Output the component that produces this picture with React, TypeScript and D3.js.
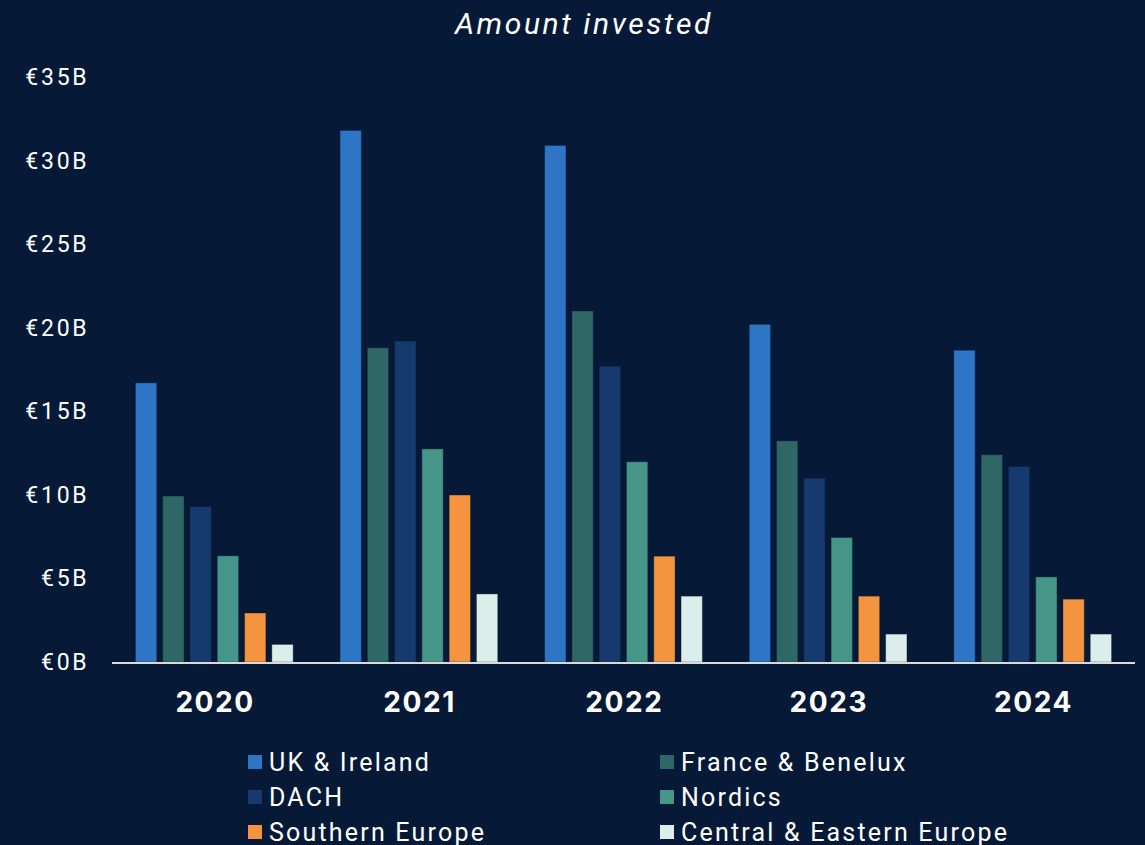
import React from 'react';
import * as d3 from 'd3';

const years = ['2020', '2021', '2022', '2023', '2024'];
const regions = ['UK & Ireland', 'France & Benelux', 'DACH', 'Nordics', 'Southern Europe', 'Central & Eastern Europe'];
const colors = ['#2E75C6', '#2F6666', '#173A6E', '#459688', '#F4943F', '#DCEEEA'];

// € billions per region, one array per region, in year order
const ukIreland = [16.7, 31.8, 30.9, 20.2, 18.65];
const franceBenelux = [9.93, 18.8, 21.0, 13.23, 12.4];
const dach = [9.3, 19.2, 17.7, 11.0, 11.7];
const nordics = [6.35, 12.75, 11.98, 7.45, 5.09];
const southernEurope = [2.93, 9.99, 6.33, 3.94, 3.76];
const centralEastern = [1.05, 4.07, 3.94, 1.67, 1.67];

const seriesValues = [ukIreland, franceBenelux, dach, nordics, southernEurope, centralEastern];
const yTicks = [0, 5, 10, 15, 20, 25, 30, 35];

const W = 1145;
const H = 845;
const BG = '#061A37';

const App = () => {
    const x0 = d3.scaleBand().domain(years).range([112, 1135]).padding(0);
    const x1 = d3.scaleBand()
        .domain(regions)
        .range([0, x0.bandwidth()])
        .paddingInner(0.22)
        .paddingOuter(0.86);
    const y = d3.scaleLinear().domain([0, 35]).range([662, 77]);

    const legendRows = [0, 1, 2];

    return (
        <div style={{ position: 'absolute', left: 0, top: 0 }}>
            <svg width={W} height={H} style={{ display: 'block', fontFamily: 'Roboto, sans-serif' }}>
                <rect width={W} height={H} fill={BG} />
                <text x={584} y={34} textAnchor="middle" fill="#fff" fontSize={30} fontStyle="italic" letterSpacing={2.6}>
                    Amount invested
                </text>

                {yTicks.map(t => (
                    <text key={t} x={89.5} y={y(t)} dy="0.35em" textAnchor="end" fill="#fff" fontSize={23} letterSpacing={2.8}>
                        {`€${t}B`}
                    </text>
                ))}

                {years.map((yr, i) => (
                    <g key={yr} transform={`translate(${x0(yr)},0)`}>
                        {regions.map((r, j) => (
                            <rect
                                key={r}
                                x={x1(r)}
                                y={y(seriesValues[j][i])}
                                width={x1.bandwidth()}
                                height={y(0) - y(seriesValues[j][i])}
                                fill={colors[j]}
                                stroke="rgba(6,26,55,0.35)"
                                strokeWidth={1}
                            />
                        ))}
                        <text
                            x={x0.bandwidth() / 2 + 0.8}
                            y={712}
                            textAnchor="middle"
                            fill="#fff"
                            fontSize={28}
                            fontWeight={700}
                            fontFamily="Inter, sans-serif"
                            letterSpacing={1.6}
                        >
                            {yr}
                        </text>
                    </g>
                ))}

                <line x1={112} x2={1135} y1={y(0) + 1} y2={y(0) + 1} stroke="#D9D9D9" strokeWidth={2} />

                {regions.map((r, j) => {
                    const col = j % 2;
                    const row = legendRows[Math.floor(j / 2)];
                    const lx = col === 0 ? 248 : 660;
                    const ly = 762 + row * 35;
                    return (
                        <g key={r} transform={`translate(${lx},${ly})`}>
                            <rect x={0} y={-7} width={14} height={14} fill={colors[j]} />
                            <text x={21} y={0} dy="0.36em" fill="#fff" fontSize={25} letterSpacing={2.2}>
                                {r}
                            </text>
                        </g>
                    );
                })}
            </svg>
        </div>
    );
};

export default App;
